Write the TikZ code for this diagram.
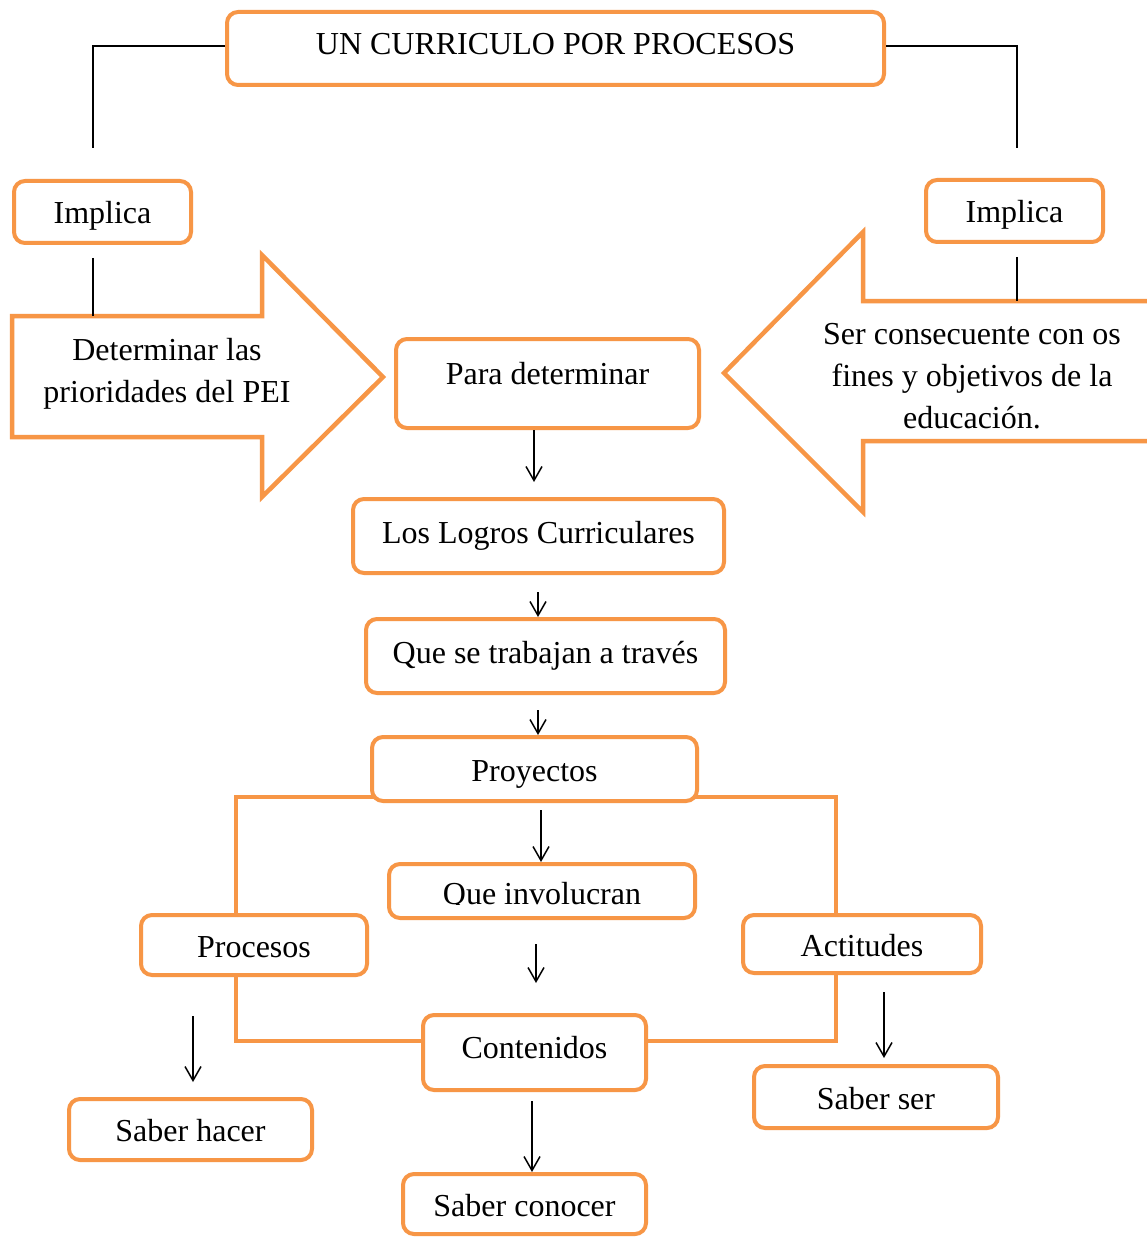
\documentclass[tikz,border=0pt]{standalone}
\usepackage{fontspec}
\setmainfont{Liberation Serif}
\usetikzlibrary{arrows.meta,calc}
\definecolor{orng}{HTML}{F79646}
\newcommand{\fs}{\fontsize{32}{42}\selectfont}
\begin{document}
\begin{tikzpicture}[x=1pt,y=-1pt,
  box/.style={draw=orng, line width=4pt, rounded corners=11pt, fill=white,
    align=center, font=\fs, inner sep=0pt, text height=26.5pt, text depth=2.5pt},
  txt/.style={align=center, font=\fs, inner sep=0pt},
  conn/.style={draw=black, line width=1.3pt},
  arr/.style={draw=black, line width=1.5pt, -{Straight Barb[length=14pt,width=16pt]}},
  shp/.style={draw=orng, line width=4.5pt, fill=white, line join=miter}]
\useasboundingbox (0,0) rectangle (1146,1238);
\fill[white] (0,0) rectangle (1146,1238);

% big arrow shapes
\draw[shp] (12,316) -- (262,316) -- (262,255) -- (383,377) -- (262,497) -- (262,437) -- (12,437) -- cycle;
\draw[shp] (1160,301) -- (863,301) -- (863,232) -- (724,373) -- (863,512) -- (863,441) -- (1160,441);
\node[txt] (detL) at (167,373.5) {Determinar las\\prioridades del PEI};
\node[txt] (serR) at (972,376.5) {Ser consecuente con os\\fines y objetivos de la\\educación.};

% orange frame around the lower part
\draw[draw=orng, line width=4pt] (236,797) rectangle (836,1041);

% boxes
\node[box, minimum width=657, minimum height=73] (title) at (555.5,48.5) {\raisebox{5.5pt}{UN CURRICULO POR PROCESOS}};
\node[box, minimum width=177, minimum height=62] (impL) at (102.5,212) {Implica};
\node[box, minimum width=177, minimum height=62] (impR) at (1014.5,211) {Implica};
\node[box, minimum width=303, minimum height=89] (para) at (547.5,383.5) {\raisebox{11.5pt}{Para determinar}};
\node[box, minimum width=371, minimum height=74] (logros) at (538.5,536) {\raisebox{4.5pt}{Los Logros Curriculares}};
\node[box, minimum width=359, minimum height=74] (trabajan) at (545.5,656) {\raisebox{4.5pt}{Que se trabajan a través}};
\node[box, minimum width=325, minimum height=64] (proyectos) at (534.5,769) {Proyectos};
\node[box, minimum width=306, minimum height=54] (involucran) at (542,891) {};
\begin{scope}
\clip (390,865) rectangle (694,904);
\node[txt, anchor=base] (involtxt) at (542,904) {Que involucran};
\end{scope}
\node[box, minimum width=226, minimum height=60] (procesos) at (254,945) {Procesos};
\node[box, minimum width=238, minimum height=58] (actitudes) at (862,944) {Actitudes};
\node[box, minimum width=223, minimum height=75] (contenidos) at (534.5,1052.5) {\raisebox{6.5pt}{Contenidos}};
\node[box, minimum width=243, minimum height=61] (saberhacer) at (190.5,1129.5) {Saber hacer};
\node[box, minimum width=243, minimum height=60] (saberconocer) at (524.5,1204) {Saber conocer};
\node[box, minimum width=244, minimum height=62] (saberser) at (876,1097) {Saber ser};

% black connector lines
\coordinate (tlEnd) at (93,148);
\coordinate (trEnd) at (1017,148);
\draw[conn] ([yshift=2.5pt]title.west) -| (tlEnd);
\draw[conn] ([yshift=2.5pt]title.east) -| (trEnd);
\coordinate (ilS) at (93,258);
\coordinate (ilE) at (93,316);
\coordinate (irS) at (1017,257);
\coordinate (irE) at (1017,301);
\draw[conn] (ilS) -- (ilE);
\draw[conn] (irS) -- (irE);

% arrows
\draw[arr] ($(para.south)+(-13.5,0)$) -- ($(logros.north)+(-4.5,-15)$);
\draw[arr] ($(logros.south)+(-0.5,17)$) -- ($(trabajan.north)+(-7.5,0)$);
\draw[arr] ($(trabajan.south)+(-7.5,15)$) -- ($(proyectos.north)+(3.5,0)$);
\draw[arr] ($(proyectos.south)+(6.5,7)$) -- ($(involucran.north)+(-1,0)$);
\draw[arr] ($(involucran.south)+(-6,24)$) -- ($(contenidos.north)+(1.5,-30)$);
\draw[arr] ($(procesos.south)+(-61,39)$) -- ($(saberhacer.north)+(2.5,-15)$);
\draw[arr] ($(contenidos.south)+(-2.5,9)$) -- ($(saberconocer.north)+(7.5,0)$);
\draw[arr] ($(actitudes.south)+(22,17)$) -- ($(saberser.north)+(8,-6)$);
\end{tikzpicture}
\end{document}
